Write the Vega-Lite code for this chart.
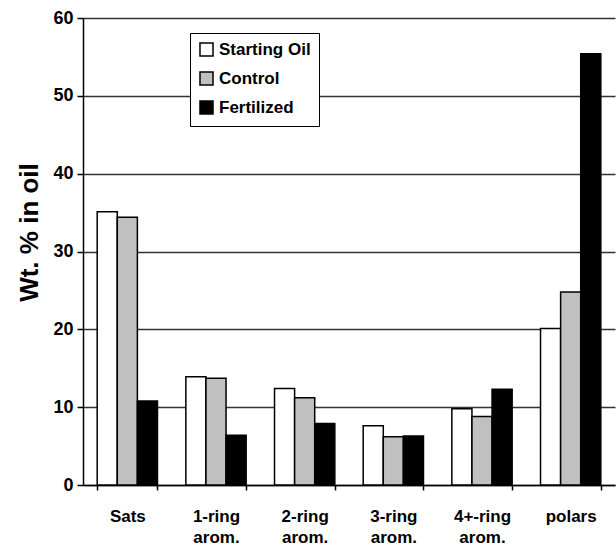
{
  "$schema": "https://vega.github.io/schema/vega-lite/v6.json",
  "autosize": "none",
  "width": 532,
  "height": 467,
  "padding": {"left": 83, "top": 18, "right": 1, "bottom": 64},
  "background": "white",
  "config": {
    "view": {"stroke": null},
    "font": "Liberation Sans"
  },
  "data": {
    "values": [
      {"fraction": "Sats", "sample": "Starting Oil", "wt": 35.1},
      {"fraction": "Sats", "sample": "Control", "wt": 34.4},
      {"fraction": "Sats", "sample": "Fertilized", "wt": 10.8},
      {"fraction": "1-ring arom.", "sample": "Starting Oil", "wt": 13.9},
      {"fraction": "1-ring arom.", "sample": "Control", "wt": 13.7},
      {"fraction": "1-ring arom.", "sample": "Fertilized", "wt": 6.4},
      {"fraction": "2-ring arom.", "sample": "Starting Oil", "wt": 12.4},
      {"fraction": "2-ring arom.", "sample": "Control", "wt": 11.2},
      {"fraction": "2-ring arom.", "sample": "Fertilized", "wt": 7.9},
      {"fraction": "3-ring arom.", "sample": "Starting Oil", "wt": 7.6},
      {"fraction": "3-ring arom.", "sample": "Control", "wt": 6.2},
      {"fraction": "3-ring arom.", "sample": "Fertilized", "wt": 6.3},
      {"fraction": "4+-ring arom.", "sample": "Starting Oil", "wt": 9.8},
      {"fraction": "4+-ring arom.", "sample": "Control", "wt": 8.8},
      {"fraction": "4+-ring arom.", "sample": "Fertilized", "wt": 12.3},
      {"fraction": "polars", "sample": "Starting Oil", "wt": 20.1},
      {"fraction": "polars", "sample": "Control", "wt": 24.8},
      {"fraction": "polars", "sample": "Fertilized", "wt": 55.4}
    ]
  },
  "mark": {"type": "bar", "stroke": "black", "strokeWidth": 1.5, "opacity": 1},
  "encoding": {
    "x": {
      "field": "fraction",
      "type": "nominal",
      "sort": null,
      "scale": {"paddingInner": 0.32, "paddingOuter": 0.16},
      "axis": {
        "title": null,
        "labelAngle": 0,
        "labelExpr": "split(datum.label, ' ')",
        "labelFont": "Liberation Sans",
        "labelFontWeight": "bold",
        "labelFontSize": 17,
        "labelColor": "black",
        "labelPadding": 18,
        "labelLineHeight": 21,
        "domainColor": "black",
        "domainWidth": 1.5,
        "tickColor": "black",
        "tickWidth": 1.5,
        "tickSize": 5,
        "tickBand": "extent",
        "grid": false
      }
    },
    "xOffset": {"field": "sample", "type": "nominal", "sort": ["Starting Oil", "Control", "Fertilized"]},
    "y": {
      "field": "wt",
      "type": "quantitative",
      "scale": {"domain": [0, 60], "nice": false},
      "axis": {
        "title": "Wt. % in oil",
        "titleFont": "Liberation Sans",
        "titleFontSize": 26,
        "titleFontWeight": "bold",
        "titleColor": "black",
        "titlePadding": 10,
        "titleY": 214,
        "values": [0, 10, 20, 30, 40, 50, 60],
        "labelFont": "Liberation Sans",
        "labelFontWeight": "bold",
        "labelFontSize": 18,
        "labelColor": "black",
        "labelPadding": 4,
        "domainColor": "black",
        "domainWidth": 1.5,
        "tickColor": "black",
        "tickWidth": 1.5,
        "tickSize": 6,
        "grid": true,
        "gridColor": "#333333",
        "gridWidth": 1.5
      }
    },
    "color": {
      "field": "sample",
      "type": "nominal",
      "scale": {"domain": ["Starting Oil", "Control", "Fertilized"], "range": ["white", "#c0c0c0", "black"]},
      "legend": {
        "title": null,
        "orient": "none",
        "legendX": 107,
        "legendY": 15,
        "symbolType": "square",
        "symbolSize": 170,
        "symbolStrokeColor": "black",
        "symbolStrokeWidth": 1.5,
        "symbolOpacity": 1,
        "labelFont": "Liberation Sans",
        "labelFontWeight": "bold",
        "labelFontSize": 17,
        "labelColor": "black",
        "labelOffset": 4,
        "rowPadding": 8,
        "padding": 8,
        "strokeColor": "black",
        "fillColor": "white"
      }
    }
  }
}
